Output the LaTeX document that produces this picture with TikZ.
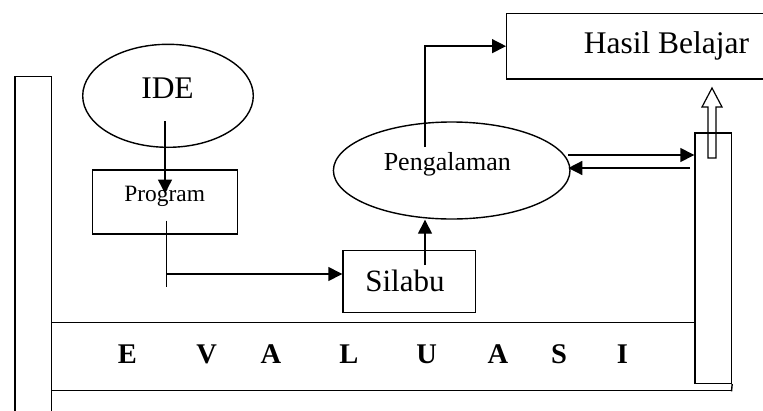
\documentclass[tikz,border=0pt]{standalone}
\usepackage{fontspec}
\setmainfont{Liberation Serif}
\usetikzlibrary{arrows.meta,shapes.geometric,calc}
\begin{document}
\begin{tikzpicture}[x=1pt,y=-1pt,
  line width=1.4pt,
  arr/.style={-{Triangle[length=14pt,width=14pt]}},
  oval/.style={draw,ellipse,inner sep=0pt},
  boxnode/.style={draw,rectangle,inner sep=0pt},
  lbl/.style={anchor=base,inner sep=0pt},
  ev/.style={anchor=base,inner sep=0pt,font=\fontsize{28.5}{32}\selectfont\bfseries}]
\useasboundingbox (0,0) rectangle (763,410);
\clip (0,0) rectangle (763,410);
% shapes
\node[oval,minimum width=170.6pt,minimum height=103pt] (ide) at (168,95.8) {};
\node[oval,minimum width=236.6pt,minimum height=97pt] (peng) at (451.7,170.5) {};
\node[boxnode,minimum width=293.3pt,minimum height=65.7pt] (hasil) at (653.35,46.15) {};
\node[boxnode,minimum width=144.6pt,minimum height=64pt] (prog) at (165,202) {};
\node[boxnode,minimum width=132.7pt,minimum height=62pt] (silabu) at (409.35,281.7) {};
\node[boxnode,minimum width=36.5pt,minimum height=250.3pt] (rr) at (713.25,258.15) {};
% left upright bar
\draw (15,415) -- (15,76.5) -- (51.5,76.5) -- (51.5,415);
% evaluasi band
\draw (51.5,322.7) -- (rr.west |- 0,322.7);
\draw (51.5,390.7) -- (731.5,390.7);
\draw (rr.south east) -- (731.5,391.4);
% texts
\node[lbl,font=\fontsize{31.5}{36}\selectfont] (idet) at (167.5,98) {IDE};
\node[lbl,font=\fontsize{31.5}{36}\selectfont] (hasilt) at (666.5,53.3) {Hasil Belajar};
\node[lbl,font=\fontsize{26}{30}\selectfont] (pengt) at (447.3,170.3) {Pengalaman};
\node[lbl,font=\fontsize{23.4}{28}\selectfont] (progt) at (164.7,201.7) {Program};
\node[lbl,font=\fontsize{31}{36}\selectfont] (silabut) at (405,291.3) {Silabu};
\node[ev] (e1) at (127.5,363.3) {E};
\node[ev] (e2) at (206.7,363.3) {V};
\node[ev] (e3) at (271,363.3) {A};
\node[ev] (e4) at (349,363.3) {L};
\node[ev] (e5) at (426.7,363.3) {U};
\node[ev] (e6) at (498,363.3) {A};
\node[ev] (e7) at (559,363.3) {S};
\node[ev] (e8) at (622.5,363.3) {I};
% connectors
\coordinate (i1) at (165,121);
\coordinate (i2) at (165,193.5);
\draw[arr] (i1) -- (i2);
\coordinate (p1) at (166.7,220.7);
\coordinate (p2) at (166.7,286.7);
\coordinate (p3) at (166.7,274);
\draw (p1) -- (p2);
\draw[arr] (p3) -- (p3 -| silabu.west);
\coordinate (s1) at (425,265);
\draw[arr] (s1) -- (s1 |- peng.south);
\coordinate (g1) at (425,147);
\draw[arr] (g1) |- (hasil.west);
\coordinate (g2) at (568.3,155);
\draw[arr] (g2) -- (g2 -| rr.west);
\coordinate (r1) at (690,168);
\draw[arr] (r1) -- (568.3,168);
% hollow arrow
\draw[line width=1.2pt] (708,158) -- (708,107) -- (702,107) -- (712,88) -- (722,107) -- (716,107) -- (716,158) -- cycle;
\end{tikzpicture}
\end{document}
